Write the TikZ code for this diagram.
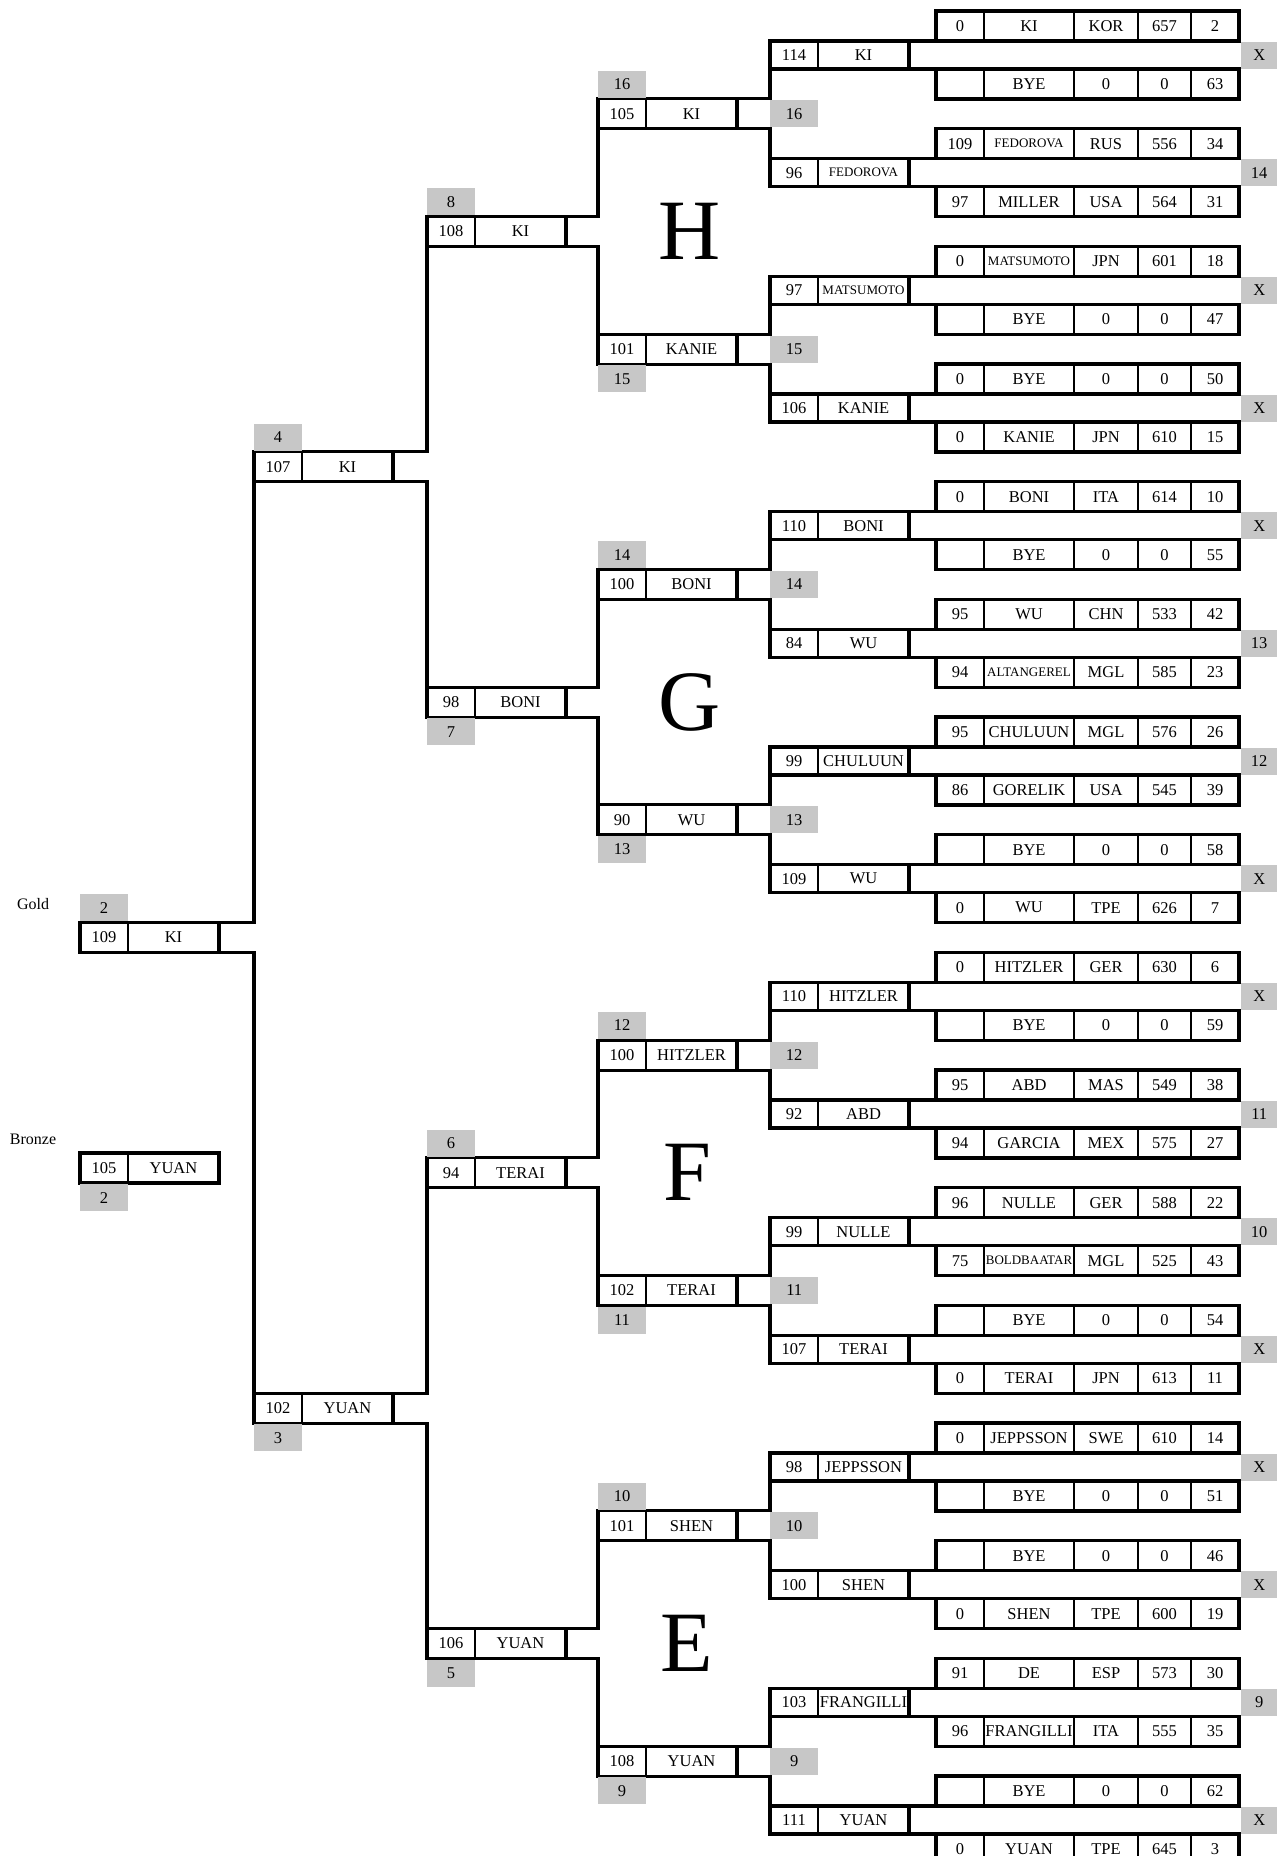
\documentclass[tikz,border=0pt]{standalone}
\usepackage{fontspec}
\setmainfont{Liberation Serif}
\usepackage{tikz}
\usetikzlibrary{positioning}
\newcommand{\cellfont}{\fontsize{16.5}{18}\selectfont}
\newcommand{\sm}[1]{{\fontsize{13}{14}\selectfont #1}}
% one entrant row: name, y, seed, player, country, score, rank
\newcommand{\entrant}[7]{%
  \node[cell,minimum width=48pt] (#1a) at (960,#2) {#3};
  \node[cell,minimum width=90pt,right=0pt of #1a] (#1b) {#4};
  \node[cell,minimum width=64pt,right=0pt of #1b] (#1c) {#5};
  \node[cell,minimum width=53pt,right=0pt of #1c] (#1d) {#6};
  \node[cell,minimum width=48pt,right=0pt of #1d] (#1e) {#7};
  \draw[frame] (#1a.north west) rectangle (#1e.south east);
}
% score box: [style], name, left x, y, score, winner
\newcommand{\matchbox}[6][]{%
  \node[cell,#1,minimum width=48pt] (#2n) at ({#3+24},#4) {#5};
  \node[cell,#1,minimum width=91pt,right=0pt of #2n] (#2p) {#6};
  \draw[frame] (#2n.north west) rectangle (#2p.south east);
}
% first round match with its bar and mark
\newcommand{\leaf}[5]{%
  \matchbox[minimum height=28pt]{#1}{770}{#2}{#3}{#4}
  \draw[frame] (#1p.north east) -- (#1p.north east -| #1ue.east);
  \draw[frame] (#1p.south east) -- (#1p.south east -| #1le.east);
  \node[xtag] (#1t) at (#1p.east -| #1ue.east) {#5};
}
\newcommand{\feed}[3]{%
  \draw[frame] (#1p.north east) -| (#2n.south west);
  \draw[frame] (#1p.south east) -| (#3n.north west);
}

\begin{document}
\begin{tikzpicture}[x=1pt,y=-1pt,
cell/.style={draw,line width=2pt,inner sep=0pt,outer sep=0pt,minimum height=30pt,font=\cellfont},
frame/.style={line width=3.2pt},
tag/.style={fill=black!22,inner sep=0pt,minimum width=48pt,minimum height=27pt,font=\cellfont},
xtag/.style={tag,minimum width=36pt,anchor=west,xshift=2pt},
pool/.style={font=\fontsize{86}{86}\selectfont},
medal/.style={font=\fontsize{16}{18}\selectfont}
]
\useasboundingbox (0,0) rectangle (1288,1856);
\clip (0,0) rectangle (1288,1856);

% pool H
\entrant{g1u}{26}{0}{KI}{KOR}{657}{2}
\entrant{g1l}{84}{}{BYE}{0}{0}{63}
\leaf{g1}{55}{114}{KI}{X}
\entrant{g2u}{143.7}{109}{\sm{FEDOROVA}}{RUS}{556}{34}
\entrant{g2l}{201.7}{97}{MILLER}{USA}{564}{31}
\leaf{g2}{172.7}{96}{\sm{FEDOROVA}}{14}
\entrant{g3u}{261.3}{0}{\sm{MATSUMOTO}}{JPN}{601}{18}
\entrant{g3l}{319.3}{}{BYE}{0}{0}{47}
\leaf{g3}{290.3}{97}{\sm{MATSUMOTO}}{X}
\entrant{g4u}{379}{0}{BYE}{0}{0}{50}
\entrant{g4l}{437}{0}{KANIE}{JPN}{610}{15}
\leaf{g4}{408}{106}{KANIE}{X}
% pool G
\entrant{g5u}{496.7}{0}{BONI}{ITA}{614}{10}
\entrant{g5l}{554.7}{}{BYE}{0}{0}{55}
\leaf{g5}{525.7}{110}{BONI}{X}
\entrant{g6u}{614.3}{95}{WU}{CHN}{533}{42}
\entrant{g6l}{672.3}{94}{\sm{ALTANGEREL}}{MGL}{585}{23}
\leaf{g6}{643.3}{84}{WU}{13}
\entrant{g7u}{732}{95}{CHULUUN}{MGL}{576}{26}
\entrant{g7l}{790}{86}{GORELIK}{USA}{545}{39}
\leaf{g7}{761}{99}{CHULUUN}{12}
\entrant{g8u}{849.7}{}{BYE}{0}{0}{58}
\entrant{g8l}{907.7}{0}{WU}{TPE}{626}{7}
\leaf{g8}{878.7}{109}{WU}{X}
% pool F
\entrant{g9u}{967.3}{0}{HITZLER}{GER}{630}{6}
\entrant{g9l}{1025.3}{}{BYE}{0}{0}{59}
\leaf{g9}{996.3}{110}{HITZLER}{X}
\entrant{g10u}{1085}{95}{ABD}{MAS}{549}{38}
\entrant{g10l}{1143}{94}{GARCIA}{MEX}{575}{27}
\leaf{g10}{1114}{92}{ABD}{11}
\entrant{g11u}{1202.7}{96}{NULLE}{GER}{588}{22}
\entrant{g11l}{1260.7}{75}{\sm{BOLDBAATAR}}{MGL}{525}{43}
\leaf{g11}{1231.7}{99}{NULLE}{10}
\entrant{g12u}{1320.3}{}{BYE}{0}{0}{54}
\entrant{g12l}{1378.3}{0}{TERAI}{JPN}{613}{11}
\leaf{g12}{1349.3}{107}{TERAI}{X}
% pool E
\entrant{g13u}{1438}{0}{JEPPSSON}{SWE}{610}{14}
\entrant{g13l}{1496}{}{BYE}{0}{0}{51}
\leaf{g13}{1467}{98}{JEPPSSON}{X}
\entrant{g14u}{1555.7}{}{BYE}{0}{0}{46}
\entrant{g14l}{1613.7}{0}{SHEN}{TPE}{600}{19}
\leaf{g14}{1584.7}{100}{SHEN}{X}
\entrant{g15u}{1673.3}{91}{DE}{ESP}{573}{30}
\entrant{g15l}{1731.3}{96}{FRANGILLI}{ITA}{555}{35}
\leaf{g15}{1702.3}{103}{FRANGILLI}{9}
\entrant{g16u}{1791}{}{BYE}{0}{0}{62}
\entrant{g16l}{1849}{0}{YUAN}{TPE}{645}{3}
\leaf{g16}{1820}{111}{YUAN}{X}

% later rounds
\matchbox{q1}{598}{113.8}{105}{KI}
\matchbox{q2}{598}{349.2}{101}{KANIE}
\matchbox{q3}{598}{584.5}{100}{BONI}
\matchbox{q4}{598}{819.8}{90}{WU}
\matchbox{q5}{598}{1055.2}{100}{HITZLER}
\matchbox{q6}{598}{1290.5}{102}{TERAI}
\matchbox{q7}{598}{1525.8}{101}{SHEN}
\matchbox{q8}{598}{1761.2}{108}{YUAN}
\matchbox{r1}{427}{231.5}{108}{KI}
\matchbox{r2}{427}{702.2}{98}{BONI}
\matchbox{r3}{427}{1172.8}{94}{TERAI}
\matchbox{r4}{427}{1643.5}{106}{YUAN}
\matchbox{s1}{254}{466.8}{107}{KI}
\matchbox{s2}{254}{1408.2}{102}{YUAN}
\matchbox{gold}{80}{937.5}{109}{KI}
\matchbox{bronze}{80}{1168}{105}{YUAN}

\feed{q1}{g1}{g2} \feed{q2}{g3}{g4}
\feed{q3}{g5}{g6} \feed{q4}{g7}{g8}
\feed{q5}{g9}{g10} \feed{q6}{g11}{g12}
\feed{q7}{g13}{g14} \feed{q8}{g15}{g16}
\feed{r1}{q1}{q2} \feed{r2}{q3}{q4}
\feed{r3}{q5}{q6} \feed{r4}{q7}{q8}
\feed{s1}{r1}{r2} \feed{s2}{r3}{r4}
\feed{gold}{s1}{s2}

% places
\node[tag,above=1pt of q1n] (q1a) {16};
\node[tag,anchor=west] (q1b) at (q1p.east -| g1n.west) {16};
\node[tag,below=1pt of q2n] (q2a) {15};
\node[tag,anchor=west] (q2b) at (q2p.east -| g3n.west) {15};
\node[tag,above=1pt of q3n] (q3a) {14};
\node[tag,anchor=west] (q3b) at (q3p.east -| g5n.west) {14};
\node[tag,below=1pt of q4n] (q4a) {13};
\node[tag,anchor=west] (q4b) at (q4p.east -| g7n.west) {13};
\node[tag,above=1pt of q5n] (q5a) {12};
\node[tag,anchor=west] (q5b) at (q5p.east -| g9n.west) {12};
\node[tag,below=1pt of q6n] (q6a) {11};
\node[tag,anchor=west] (q6b) at (q6p.east -| g11n.west) {11};
\node[tag,above=1pt of q7n] (q7a) {10};
\node[tag,anchor=west] (q7b) at (q7p.east -| g13n.west) {10};
\node[tag,below=1pt of q8n] (q8a) {9};
\node[tag,anchor=west] (q8b) at (q8p.east -| g15n.west) {9};
\node[tag,above=1pt of r1n] (r1a) {8};
\node[tag,below=1pt of r2n] (r2a) {7};
\node[tag,above=1pt of r3n] (r3a) {6};
\node[tag,below=1pt of r4n] (r4a) {5};
\node[tag,above=1pt of s1n] (s1a) {4};
\node[tag,below=1pt of s2n] (s2a) {3};
\node[tag,above=1pt of goldn] (golda) {2};
\node[tag,below=1pt of bronzen] (bronzea) {2};

\node[pool] (H) at (690,231.5) {H};
\node[pool] (G) at (690,702.2) {G};
\node[pool] (F) at (687,1172.8) {F};
\node[pool] (E) at (687,1643.5) {E};
\node[medal] (goldtxt) at (33,904) {Gold};
\node[medal] (bronzetxt) at (33,1139) {Bronze};
\end{tikzpicture}
\end{document}
